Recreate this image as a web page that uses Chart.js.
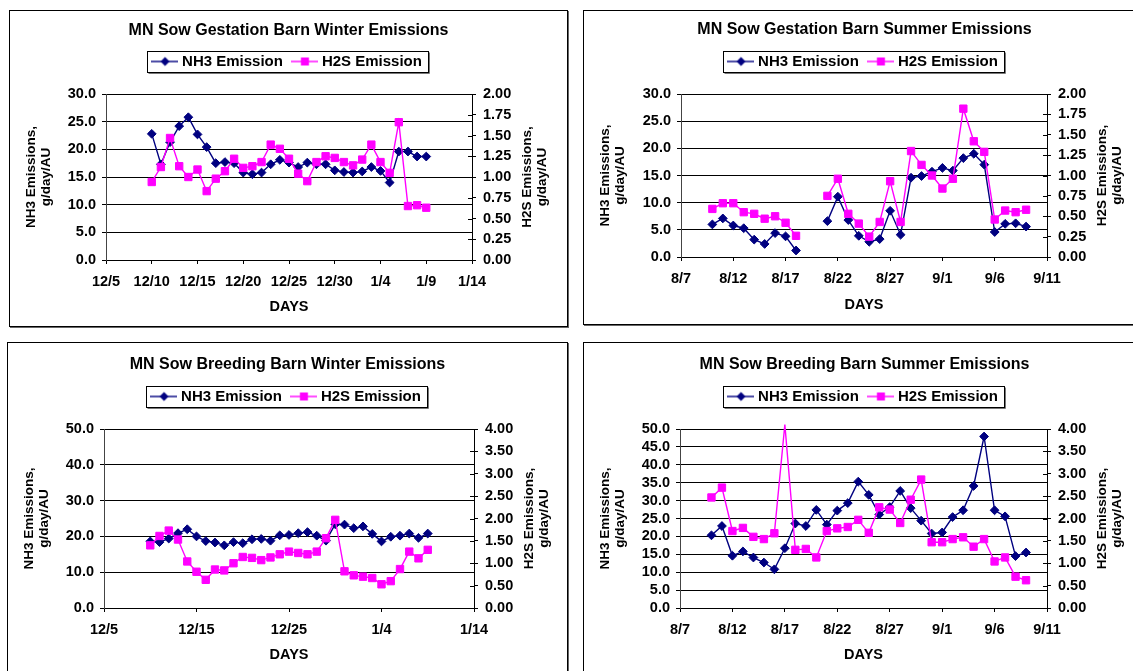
<!DOCTYPE html>
<html>
<head>
<meta charset="utf-8">
<script src="https://cdn.jsdelivr.net/npm/chart.js"></script>
<style>
  html, body { margin: 0; padding: 0; background: #fff; overflow: hidden; width: 1133px; height: 671px; }
  .box { position: absolute; border: 1px solid #000; box-shadow: 1px 1px 0 #666; background: #fff; }
  .box canvas { position: absolute; left: 0; top: 0; }
</style>
</head>
<body>
<div class="box" style="left:9px;top:10px;width:557px;height:315px"><canvas id="gestWinter" width="557" height="315"></canvas></div>
<div class="box" style="left:583px;top:10px;width:561px;height:313px"><canvas id="gestSummer" width="561" height="313"></canvas></div>
<div class="box" style="left:7px;top:342px;width:559px;height:338px"><canvas id="breedWinter" width="559" height="338"></canvas></div>
<div class="box" style="left:583px;top:342px;width:561px;height:338px"><canvas id="breedSummer" width="561" height="338"></canvas></div>
<script>
// sampling days
var winterDays = ['12/10','12/11','12/12','12/13','12/14','12/15','12/16','12/17','12/18','12/19','12/20',
  '12/21','12/22','12/23','12/24','12/25','12/26','12/27','12/28','12/29','12/30','12/31',
  '1/1','1/2','1/3','1/4','1/5','1/6','1/7','1/8','1/9'];
var summerDays = ['8/10','8/11','8/12','8/13','8/14','8/15','8/16','8/17','8/18','8/19','8/20',
  '8/21','8/22','8/23','8/24','8/25','8/26','8/27','8/28','8/29','8/30','8/31',
  '9/1','9/2','9/3','9/4','9/5','9/6','9/7','9/8','9/9'];

// x axis tick labels
var winterTicks5 = ['12/5','12/10','12/15','12/20','12/25','12/30','1/4','1/9','1/14'];
var winterTicks10 = ['12/5','12/15','12/25','1/4','1/14'];
var summerTicks = ['8/7','8/12','8/17','8/22','8/27','9/1','9/6','9/11'];

// y axis ticks
var gestNh3Ticks = [0, 5, 10, 15, 20, 25, 30];
var gestH2sTicks = [0, 0.25, 0.5, 0.75, 1, 1.25, 1.5, 1.75, 2];
var breedWinterNh3Ticks = [0, 10, 20, 30, 40, 50];
var breedSummerNh3Ticks = [0, 5, 10, 15, 20, 25, 30, 35, 40, 45, 50];
var breedH2sTicks = [0, 0.5, 1, 1.5, 2, 2.5, 3, 3.5, 4];

// NH3 (g/day/AU) and H2S (g/day/AU)
var gestWinterNh3 = [22.8,17.3,21.3,24.2,25.8,22.7,20.4,17.5,17.7,17.5,15.8,15.5,15.8,17.3,18.1,17.6,16.8,17.6,17.3,17.3,16.2,15.9,
  15.8,16.0,16.8,16.1,14.0,19.6,19.6,18.7,18.7];
var gestWinterH2s = [0.94,1.12,1.47,1.13,1.00,1.09,0.83,0.98,1.07,1.22,1.11,1.13,1.18,1.39,1.34,1.22,1.04,0.95,1.18,1.25,1.23,1.18,
  1.14,1.21,1.39,1.18,1.05,1.66,0.65,0.66,0.63];
var gestSummerNh3 = [6.0,7.1,5.8,5.3,3.2,2.4,4.4,3.8,1.2,null,null,6.6,11.1,6.8,3.9,2.8,3.3,8.5,4.1,14.6,14.9,15.7,
  16.4,15.9,18.2,19.0,17.0,4.6,6.1,6.2,5.6];
var gestSummerH2s = [0.59,0.66,0.66,0.55,0.53,0.47,0.50,0.42,0.26,null,null,0.75,0.96,0.53,0.41,0.25,0.43,0.93,0.43,1.30,1.13,1.00,
  0.84,0.96,1.82,1.42,1.29,0.46,0.57,0.55,0.58];
var breedWinterNh3 = [18.6,18.4,19.4,20.9,22.0,20.0,18.7,18.3,17.5,18.4,18.1,19.2,19.3,18.8,20.3,20.4,20.9,21.2,20.2,18.8,23.4,23.3,
  22.3,22.8,20.7,18.6,19.9,20.2,20.8,19.6,20.8];
var breedWinterH2s = [1.40,1.61,1.73,1.53,1.04,0.81,0.63,0.86,0.84,1.00,1.14,1.12,1.07,1.13,1.20,1.26,1.23,1.20,1.26,1.56,1.97,0.82,
  0.73,0.70,0.67,0.53,0.60,0.87,1.26,1.11,1.30];
var breedSummerNh3 = [20.3,22.9,14.6,15.8,14.1,12.7,10.8,16.7,23.6,22.9,27.4,23.3,27.2,29.3,35.3,31.6,26.1,28.2,32.7,27.9,24.4,20.8,
  21.1,25.4,27.3,34.1,47.9,27.3,25.6,14.5,15.5];
var breedSummerH2s = [2.47,2.69,1.72,1.79,1.59,1.54,1.67,4.1,1.30,1.32,1.13,1.72,1.78,1.81,1.97,1.68,2.25,2.20,1.90,2.42,2.87,1.47,
  1.47,1.54,1.58,1.37,1.54,1.04,1.13,0.70,0.62];

var FONT = "'Liberation Sans', Arial, Helvetica, sans-serif";
Chart.defaults.font.family = FONT;
Chart.defaults.color = '#000';

var NAVY = '#000080';
var MAGENTA = '#FF00FF';
var TITLE_SIZE = 16, LEGEND_SIZE = 15, TICK_SIZE = 14.5;
var LEGEND_PAD = 12, SWATCH_BOX = 19.5;

// days since the first axis label; handles the Dec -> Jan rollover
function dayOffset(label, startLabel) {
  var p = label.split('/'), s = startLabel.split('/');
  var m = +p[0], d = +p[1], sm = +s[0], sd = +s[1];
  var y = m < sm ? 2001 : 2000;
  return Math.round((Date.UTC(y, m - 1, d) - Date.UTC(2000, sm - 1, sd)) / 86400000);
}

// little "line + marker" swatch for the legend (a bit wider than the legend box so the text sits close)
function legendSwatch(color, shape) {
  var c = document.createElement('canvas');
  var w = SWATCH_BOX + 8;
  c.width = w; c.height = 12;
  var g = c.getContext('2d');
  g.strokeStyle = color; g.lineWidth = 1.4;
  g.beginPath(); g.moveTo(0, 6); g.lineTo(w, 6); g.stroke();
  g.fillStyle = color;
  var cx = w / 2;
  if (shape === 'diamond') {
    g.beginPath(); g.moveTo(cx, 1.5); g.lineTo(cx + 4.5, 6); g.lineTo(cx, 10.5); g.lineTo(cx - 4.5, 6); g.closePath(); g.fill();
  } else {
    g.fillRect(cx - 4, 2, 8, 8);
  }
  return c;
}
var swatches = { 'NH3 Emission': legendSwatch(NAVY, 'diamond'), 'H2S Emission': legendSwatch(MAGENTA, 'square') };

// legend frame, cross ticks on the right axis, right axis title (reads bottom to top)
var excelBits = {
  id: 'excelBits',
  afterDraw: function(chart) {
    var ctx = chart.ctx, area = chart.chartArea;
    var boxes = chart.legend && chart.legend.legendHitBoxes;
    ctx.save();
    if (boxes && boxes.length) {
      var first = boxes[0], last = boxes[boxes.length - 1];
      var l = Math.round(first.left - 8.5), r = Math.round(last.left + last.width + 6);
      var cy = first.top + first.height / 2;
      var t = Math.round(cy - 10.5), b = t + 21;
      ctx.strokeStyle = '#000'; ctx.lineWidth = 1;
      ctx.strokeRect(l + 0.5, t + 0.5, r - l, b - t);
      ctx.strokeStyle = '#777';
      ctx.beginPath();
      ctx.moveTo(l + 1.5, b + 1.5); ctx.lineTo(r + 1.5, b + 1.5); ctx.lineTo(r + 1.5, t + 1.5);
      ctx.stroke();
    }
    var s = chart.scales.y2;
    ctx.strokeStyle = '#000'; ctx.lineWidth = 1;
    s.ticks.forEach(function(tk) {
      var y = Math.round(s.getPixelForValue(tk.value)) + 0.5;
      ctx.beginPath(); ctx.moveTo(s.left - 4, y); ctx.lineTo(s.left, y); ctx.stroke();
    });
    var lines = chart.options.plugins.excelBits.rightTitle;
    ctx.fillStyle = '#000';
    ctx.font = 'bold 13.5px ' + FONT;
    ctx.textAlign = 'center'; ctx.textBaseline = 'middle';
    var cyA = (area.top + area.bottom) / 2;
    lines.forEach(function(txt, i) {
      ctx.save();
      ctx.translate(area.right + 55 + i * 15, cyA);
      ctx.rotate(-Math.PI / 2);
      ctx.fillText(txt, 0, 0);
      ctx.restore();
    });
    ctx.restore();
  }
};

function makeChart(id, title, days, xTicks, nh3, h2s, nh3Ticks, h2sTicks, box) {
  var canvas = document.getElementById(id);
  var W = canvas.width, H = canvas.height;
  var start = xTicks[0];
  var titleLH = TITLE_SIZE * 1.2, daysLH = TICK_SIZE * 1.2;
  var titleTop = box.titleY - titleLH / 2;
  var titleBottom = box.legendY - LEGEND_PAD - LEGEND_SIZE / 2 - titleTop - titleLH;
  var legendBottom = box.legendY + LEGEND_SIZE / 2 + 10;
  var spacer = box.top - legendBottom;

  var pts = function(vals) {
    return days.map(function(d, i) { return { x: dayOffset(d, start), y: vals[i] }; });
  };
  var tickFont = { size: TICK_SIZE, weight: 'bold' };

  return new Chart(canvas.getContext('2d'), {
    type: 'line',
    data: {
      datasets: [{
        label: 'NH3 Emission', data: pts(nh3), yAxisID: 'y', order: 2,
        borderColor: NAVY, backgroundColor: NAVY, borderWidth: 1.4,
        pointStyle: 'rectRot', pointRadius: 4.4, pointBorderWidth: 1,
        pointBackgroundColor: NAVY, pointBorderColor: NAVY,
        spanGaps: false, tension: 0, clip: { left: 5, top: 6, right: 5, bottom: 5 }
      }, {
        label: 'H2S Emission', data: pts(h2s), yAxisID: 'y2', order: 1,
        borderColor: MAGENTA, backgroundColor: MAGENTA, borderWidth: 1.4,
        pointStyle: 'rect', pointRadius: function(c) {
          return c.parsed && c.parsed.y > h2sTicks[h2sTicks.length - 1] ? 0 : 5.2;
        },
        pointBorderWidth: 1, pointBackgroundColor: MAGENTA, pointBorderColor: MAGENTA,
        spanGaps: false, tension: 0, clip: { left: 5, top: 6, right: 5, bottom: 5 }
      }]
    },
    options: {
      responsive: false,
      animation: false,
      events: [],
      layout: { padding: 0 },
      plugins: {
        title: {
          display: true, text: title, color: '#000',
          font: { size: TITLE_SIZE, weight: 'bold' },
          padding: { top: titleTop, bottom: titleBottom }
        },
        // empty subtitle under the legend, only keeps the gap above the plot
        subtitle: {
          display: true, text: '', weight: 500,
          font: { size: 1, lineHeight: 1 }, padding: { top: spacer - 1, bottom: 0 }
        },
        legend: {
          position: 'top',
          labels: {
            usePointStyle: true, pointStyleWidth: SWATCH_BOX, padding: LEGEND_PAD, color: '#000',
            font: { size: LEGEND_SIZE, weight: 'bold' },
            generateLabels: function(chart) {
              return chart.data.datasets.map(function(ds, i) {
                return { text: ds.label, pointStyle: swatches[ds.label], datasetIndex: i, hidden: false,
                  fontColor: '#000', lineWidth: 0, strokeStyle: 'rgba(0,0,0,0)', fillStyle: 'rgba(0,0,0,0)' };
              });
            }
          }
        },
        tooltip: { enabled: false },
        excelBits: { rightTitle: ['H2S Emissions,', 'g/day/AU'] }
      },
      scales: {
        x: {
          type: 'linear', position: 'bottom',
          min: 0, max: dayOffset(xTicks[xTicks.length - 1], start),
          afterBuildTicks: function(s) { s.ticks = xTicks.map(function(t) { return { value: dayOffset(t, start) }; }); },
          afterFit: function(s) { s.height = H - box.bottom; },
          ticks: { autoSkip: false, maxRotation: 0, padding: 9, color: '#000', font: tickFont,
            callback: function(v, i) { return xTicks[i]; } },
          grid: { drawOnChartArea: false, drawTicks: true, tickLength: 4, color: '#000' },
          border: { color: '#000', width: 1 },
          title: { display: true, text: 'DAYS', color: '#000', font: { size: TICK_SIZE, weight: 'bold' },
            padding: { top: 0, bottom: H - box.daysY - daysLH / 2 } }
        },
        y: {
          position: 'left',
          min: 0, max: nh3Ticks[nh3Ticks.length - 1],
          afterBuildTicks: function(s) { s.ticks = nh3Ticks.map(function(v) { return { value: v }; }); },
          afterFit: function(s) { s.width = box.left; },
          ticks: { autoSkip: false, padding: 6, color: '#000', font: tickFont,
            callback: function(v) { return v.toFixed(1); } },
          grid: { color: '#000', lineWidth: 1, tickLength: 4 },
          border: { color: '#444', width: 1 },
          title: { display: true, text: ['NH3 Emissions,', 'g/day/AU'], color: '#000',
            font: { size: 13.5, weight: 'bold', lineHeight: 1.1 }, padding: { top: 14, bottom: 0 } }
        },
        y2: {
          position: 'right',
          min: 0, max: h2sTicks[h2sTicks.length - 1],
          afterBuildTicks: function(s) { s.ticks = h2sTicks.map(function(v) { return { value: v }; }); },
          afterFit: function(s) { s.width = W - box.right; },
          ticks: { autoSkip: false, padding: 7, color: '#000', font: tickFont,
            callback: function(v) { return v.toFixed(2); } },
          grid: { drawOnChartArea: false, color: '#000', tickLength: 4 },
          border: { color: '#000', width: 1 }
        }
      }
    },
    plugins: [excelBits]
  });
}

makeChart('gestWinter', 'MN Sow Gestation Barn Winter Emissions', winterDays, winterTicks5,
  gestWinterNh3, gestWinterH2s, gestNh3Ticks, gestH2sTicks,
  { left: 96, right: 462, top: 83, bottom: 249, titleY: 19.5, legendY: 50.5, daysY: 296 });

makeChart('gestSummer', 'MN Sow Gestation Barn Summer Emissions', summerDays, summerTicks,
  gestSummerNh3, gestSummerH2s, gestNh3Ticks, gestH2sTicks,
  { left: 97, right: 463, top: 83, bottom: 246, titleY: 18.5, legendY: 50.5, daysY: 294 });

makeChart('breedWinter', 'MN Sow Breeding Barn Winter Emissions', winterDays, winterTicks10,
  breedWinterNh3, breedWinterH2s, breedWinterNh3Ticks, breedH2sTicks,
  { left: 96, right: 466, top: 86, bottom: 265, titleY: 21.5, legendY: 53.5, daysY: 312 });

makeChart('breedSummer', 'MN Sow Breeding Barn Summer Emissions', summerDays, summerTicks,
  breedSummerNh3, breedSummerH2s, breedSummerNh3Ticks, breedH2sTicks,
  { left: 96, right: 463, top: 86, bottom: 265, titleY: 21.5, legendY: 53.5, daysY: 312 });
</script>
</body>
</html>
